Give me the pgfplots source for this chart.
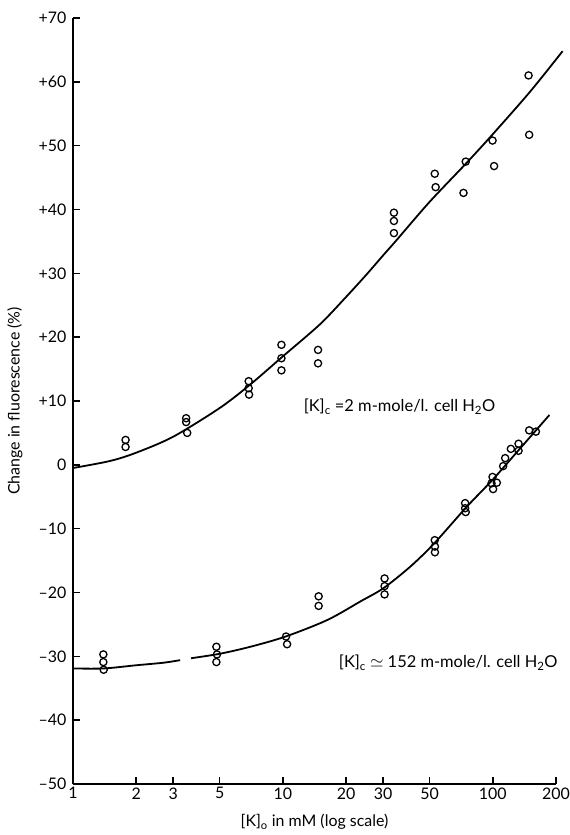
\documentclass[border=0pt]{standalone}
\usepackage{fontspec}
\setmainfont{Lato}
\usepackage{pgfplots}
\pgfplotsset{compat=1.18}

\begin{document}
\begin{tikzpicture}
\begin{axis}[
  scale only axis,
  width=483bp, height=766bp,
  xmode=log,
  xmin=1, xmax=200,
  ymin=-50, ymax=70,
  axis lines=left,
  axis line style={-, line width=1.4bp},
  tick align=inside,
  major tick length=7bp,
  tick style={line width=1.4bp, black},
  xtick={1,2,3,5,10,20,30,50,100,200},
  xticklabels={1,2,3,5,10,20,30,50,100,200},
  minor xtick={},
  ytick={-50,-40,-30,-20,-10,0,10,20,30,40,50,60,70},
  yticklabels={--50,--40,--30,--20,--10,0,+10,+20,+30,+40,+50,+60,+70},
  ticklabel style={font=\fontsize{16}{18}\selectfont},
  yticklabel style={xshift=-3bp},
  /pgf/number format/assume math mode=true,
  xlabel={[K]\textsubscript{o} in mM (log scale)},
  ylabel={Change in fluorescence (\%)},
  label style={font=\fontsize{16}{18}\selectfont},
  ylabel style={at={(axis description cs:0,0.5)}, anchor=center, rotate=0, yshift=58bp},
  xlabel style={at={(axis description cs:0.5,0)}, anchor=center, yshift=-38bp},
  clip=false,
]
% K_c = 2 data
\addplot[only marks, mark=o, mark size=3.6bp, line width=1.3bp] coordinates {
(1.78,3.9) (1.78,2.8)
(3.46,7.3) (3.46,6.7) (3.5,5.0)
(6.87,13.1) (6.87,12.0) (6.9,11.0)
(9.84,18.8) (9.84,16.7) (9.84,14.8)
(14.7,18.0) (14.7,15.9)
(33.8,39.5) (33.8,38.2) (33.8,36.3)
(52.9,45.6) (53.4,43.5)
(72.5,42.6) (74.3,47.5)
(99.7,50.8) (101.4,46.8)
(148,61.0) (149,51.7)
};
\addplot[smooth, line width=1.8bp] coordinates {
(1,-0.5) (1.5,0.6) (2,1.9) (3,4.4) (5,8.9) (7,12.6) (10,17.0) (15,22.0)
(20,26.3) (25,29.8) (30,32.8) (35,35.3) (50,41.2) (75,47.3) (100,51.8)
(150,58.4) (215,64.8)
};
% K_c = 152 data
\addplot[only marks, mark=o, mark size=3.6bp, line width=1.3bp] coordinates {
(1.395,-29.7) (1.395,-30.9) (1.4,-32.1)
(4.82,-28.5) (4.85,-29.7) (4.82,-30.9)
(10.35,-26.9) (10.47,-28.1)
(14.8,-20.6) (14.8,-22.1)
(30.5,-17.8) (30.5,-19.0) (30.5,-20.3)
(52.9,-11.8) (53.0,-12.8) (53.0,-13.7)
(73.8,-6.0) (73.8,-6.8) (74.3,-7.4)
(99.7,-1.9) (98.6,-2.9) (104.5,-2.8) (100.3,-3.8)
(112,-0.2) (114.5,1.05) (121.9,2.5) (132.6,3.3) (132.6,2.2)
(149,5.4) (160.4,5.2)
};
\addplot[smooth, line width=1.8bp] coordinates {
(1,-31.9) (1.4,-31.9) (2,-31.4) (2.7,-31.0) (3.24,-30.6)
};
\addplot[smooth, line width=1.8bp] coordinates {
(3.65,-30.3) (5,-29.6) (7,-28.5) (10.3,-26.9) (16.3,-24.3) (23.4,-21.4)
(30.2,-19.3) (40.6,-15.9) (52.6,-12.3) (75,-6.6) (100,-2.3) (136,2.7) (186,7.8)
};
\node[anchor=west, font=\fontsize{16.5}{19}\selectfont] at (axis cs:12.1,9.1)
  {[K]\textsubscript{c} =2 m-mole/l. cell H\textsubscript{2}O};
\node[anchor=west, font=\fontsize{16.5}{19}\selectfont] at (axis cs:17.8,-31.0)
  {[K]\textsubscript{c} $\simeq$ 152 m-mole/l. cell H\textsubscript{2}O};
\end{axis}
\pgfresetboundingbox
\useasboundingbox (current axis.south west) ++(-73bp,-51bp) rectangle ++(570bp,835bp);
\end{tikzpicture}
\end{document}
